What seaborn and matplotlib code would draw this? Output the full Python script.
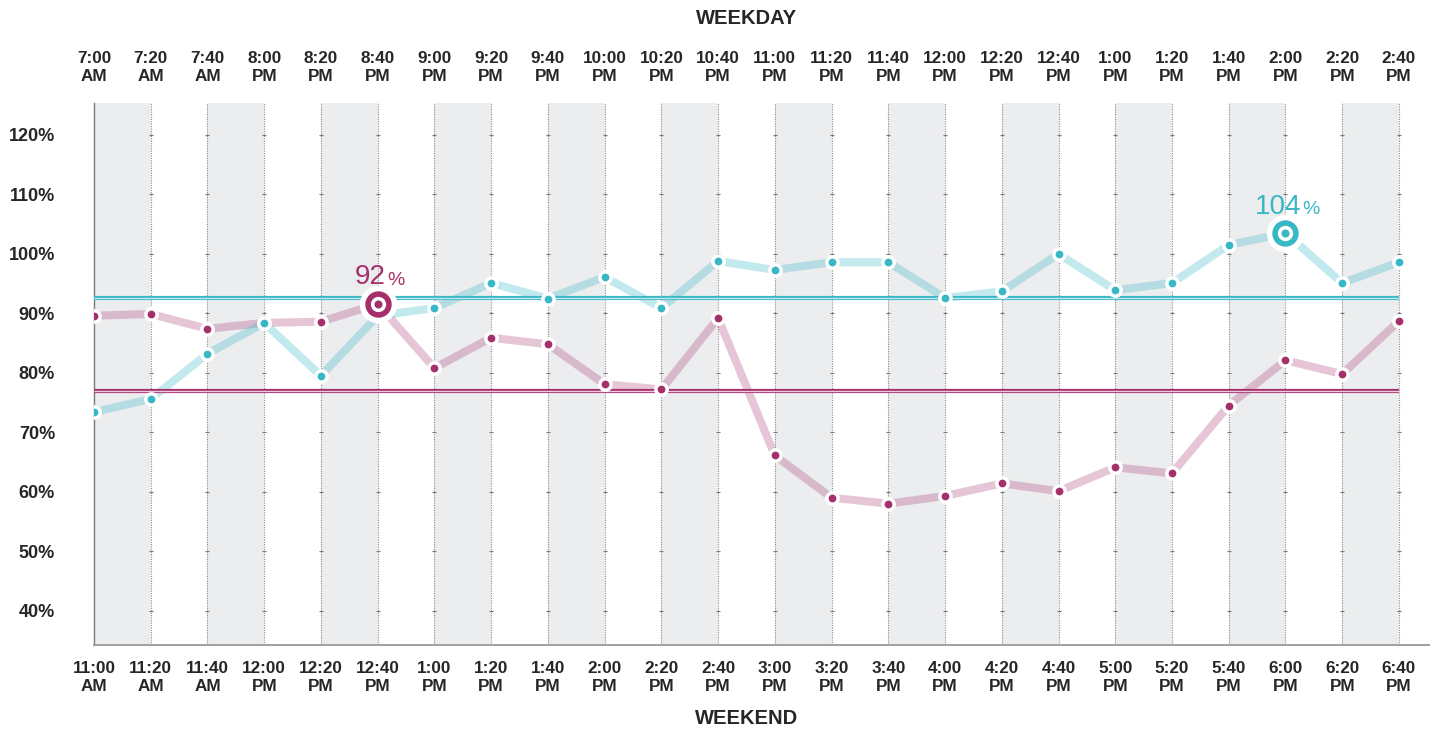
import numpy as np
import pandas as pd
import matplotlib
matplotlib.use("Agg")
import matplotlib.pyplot as plt
import seaborn as sns

# ---- data -------------------------------------------------------------
weekday_times = ["7:00\nAM", "7:20\nAM", "7:40\nAM", "8:00\nPM", "8:20\nPM", "8:40\nPM",
                 "9:00\nPM", "9:20\nPM", "9:40\nPM", "10:00\nPM", "10:20\nPM", "10:40\nPM",
                 "11:00\nPM", "11:20\nPM", "11:40\nPM", "12:00\nPM", "12:20\nPM", "12:40\nPM",
                 "1:00\nPM", "1:20\nPM", "1:40\nPM", "2:00\nPM", "2:20\nPM", "2:40\nPM"]
weekend_times = ["11:00\nAM", "11:20\nAM", "11:40\nAM", "12:00\nPM", "12:20\nPM", "12:40\nPM",
                 "1:00\nPM", "1:20\nPM", "1:40\nPM", "2:00\nPM", "2:20\nPM", "2:40\nPM",
                 "3:00\nPM", "3:20\nPM", "3:40\nPM", "4:00\nPM", "4:20\nPM", "4:40\nPM",
                 "5:00\nPM", "5:20\nPM", "5:40\nPM", "6:00\nPM", "6:20\nPM", "6:40\nPM"]

weekday_pct = [73.4, 75.6, 83.2, 88.4, 79.5, 89.6, 90.9, 95.1, 92.5, 96.1, 90.9, 98.8,
               97.3, 98.6, 98.6, 92.6, 93.7, 100.0, 93.9, 95.1, 101.5, 103.5, 95.1, 98.6]
weekend_pct = [89.6, 89.9, 87.4, 88.4, 88.6, 91.6, 80.8, 85.9, 84.8, 78.1, 77.2, 89.2,
               66.1, 59.0, 58.0, 59.3, 61.4, 60.1, 64.1, 63.1, 74.5, 82.1, 79.8, 88.7]

y_ticks = [40, 50, 60, 70, 80, 90, 100, 110, 120]

# ---- style ------------------------------------------------------------
sns.set_style("white")
plt.rcParams["font.family"] = ["Liberation Sans", "DejaVu Sans"]

TEAL = "#38b7c5"
TEAL_LIGHT = "#bfe7eb"
MAGENTA = "#a52f6b"
MAGENTA_LIGHT = "#f0c9dc"
BAND = "#ecedef"
TEXT = "#262626"

idx = np.arange(len(weekday_pct))
df = pd.DataFrame({"slot": idx, "weekday": weekday_pct, "weekend": weekend_pct})

fig = plt.figure(figsize=(14.37, 7.30), dpi=100)
ax = fig.add_axes([94 / 1437, 1 - 645 / 730, (1429 - 94) / 1437, (645 - 103) / 730])
ax.set_xlim(0, 23.53)
ax.set_ylim(34.23, 125.38)

# alternating shaded columns
for i in range(0, len(idx) - 1, 2):
    ax.axvspan(i, i + 1, color=BAND, lw=0, zorder=0)

# dotted vertical guides with small level marks
for i in idx[1:]:
    ax.axvline(i, color="#8a8a8a", lw=0.8, ls=(0, (1, 1.2)), zorder=1)
gx, gy = np.meshgrid(idx[1:], y_ticks)
ax.scatter(gx.ravel(), gy.ravel(), marker="_", s=6, lw=0.8, color="#777777", zorder=1)

# series lines
sns.lineplot(data=df, x="slot", y="weekend", color=MAGENTA, lw=5.8, alpha=0.27,
             ax=ax, zorder=3)
sns.lineplot(data=df, x="slot", y="weekday", color=TEAL, lw=5.8, alpha=0.3,
             ax=ax, zorder=3)

# average reference lines (double rule)
for vals, col, light in [(weekday_pct, TEAL, TEAL_LIGHT), (weekend_pct, MAGENTA, MAGENTA_LIGHT)]:
    m = float(np.mean(vals))
    ax.hlines(m, 0, 23, color=col, lw=3.0, zorder=4)
    ax.hlines(m, 0, 23, color=light, lw=1.0, zorder=4)

# markers
sns.scatterplot(data=df, x="slot", y="weekend", color=MAGENTA, s=66, edgecolor="white",
                linewidth=2.5, ax=ax, zorder=5, legend=False)
sns.scatterplot(data=df, x="slot", y="weekday", color=TEAL, s=66, edgecolor="white",
                linewidth=2.5, ax=ax, zorder=5, legend=False)


def mark_peak(values, color):
    k = int(np.argmax(values))
    v = values[k]
    for size, c in [(27, "white"), (19, color), (11, "white"), (5.8, color)]:
        ax.plot(k, v, "o", ms=size, mfc=c, mec="none", zorder=6)
    t = ax.annotate(f"{v:.0f}", xy=(k, v), xytext=(-5.5, 14), textcoords="offset points",
                    ha="center", va="baseline", fontsize=20, color=color, zorder=7)
    ax.annotate("%", xy=(1, 0), xycoords=t, xytext=(1, 1.2), textcoords="offset points",
                ha="left", va="bottom", fontsize=14, color=color, zorder=7)


mark_peak(weekend_pct, MAGENTA)
mark_peak(weekday_pct, TEAL)

# axes, ticks and labels
ax.set_xlabel("")
ax.set_ylabel("")
ax.set_yticks(y_ticks)
ax.set_yticklabels([f"{v}%" for v in y_ticks])
ax.tick_params(axis="y", direction="out", length=10, width=1.2, color="#8c8c8c",
               pad=18, labelsize=13, labelcolor=TEXT)
for lab in ax.get_yticklabels():
    lab.set_fontweight("bold")

ax.set_xticks(idx)
ax.set_xticklabels(weekend_times, fontweight="bold", linespacing=1.25)
ax.tick_params(axis="x", direction="inout", length=10, width=1.2, color="#a0a0a0",
               pad=6.5, labelsize=12.3, labelcolor=TEXT)

top = ax.secondary_xaxis("top")
top.set_xticks(idx)
top.set_xticklabels(weekday_times, fontweight="bold", linespacing=1.25)
top.tick_params(axis="x", length=0, pad=14, labelsize=12.3, labelcolor=TEXT)
top.spines["top"].set_visible(False)

for side in ["top", "right"]:
    ax.spines[side].set_visible(False)
ax.spines["left"].set_color("#7a7a7a")
ax.spines["left"].set_linewidth(1.0)
ax.spines["bottom"].set_color("#a0a0a0")
ax.spines["bottom"].set_linewidth(1.4)

xc = (94 + 11.5 * (1399 - 94) / 23) / 1437
fig.text(xc, 1 - 19 / 730, "WEEKDAY", ha="center", va="center", fontsize=14.5,
         fontweight="bold", color=TEXT)
fig.text(xc, 1 - 719 / 730, "WEEKEND", ha="center", va="center", fontsize=14.5,
         fontweight="bold", color=TEXT)

fig.savefig("out.png", dpi=100, facecolor="white")
